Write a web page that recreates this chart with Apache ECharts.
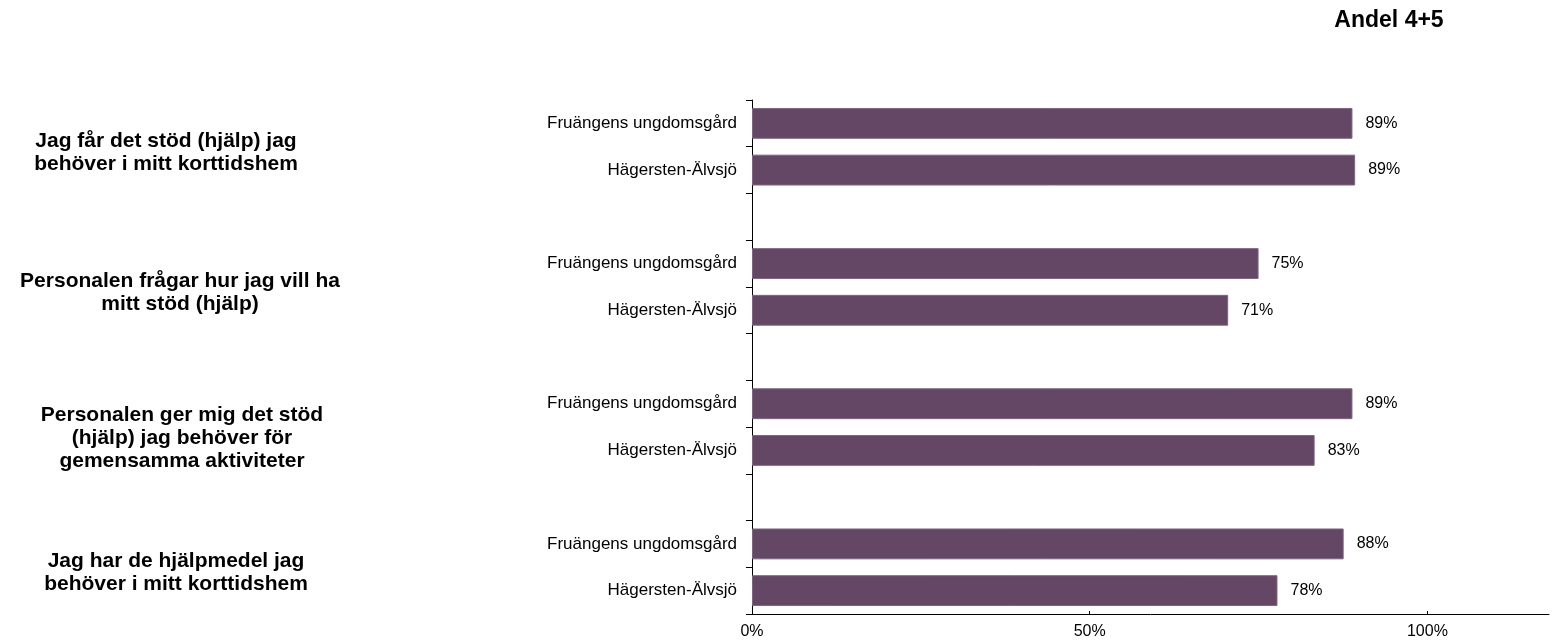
<!DOCTYPE html>
<html><head><meta charset="utf-8">
<script src="https://cdn.jsdelivr.net/npm/echarts@6/dist/echarts.min.js"></script>
<style>html,body{margin:0;padding:0;background:#fff}#chart{width:1553px;height:643px}</style>
</head><body><div id="chart"></div>
<script>
const title = 'Andel 4+5';
const categories = [
  'Fruängens ungdomsgård', 'Hägersten-Älvsjö', '',
  'Fruängens ungdomsgård', 'Hägersten-Älvsjö', '',
  'Fruängens ungdomsgård', 'Hägersten-Älvsjö', '',
  'Fruängens ungdomsgård', 'Hägersten-Älvsjö'
];
const values = [0.889, 0.893, '-', 0.75, 0.705, '-', 0.889, 0.833, '-', 0.876, 0.778];
const groupLabels = [
  'Jag får det stöd (hjälp) jag\nbehöver i mitt korttidshem',
  'Personalen frågar hur jag vill ha\nmitt stöd (hjälp)',
  'Personalen ger mig det stöd\n(hjälp) jag behöver för\ngemensamma aktiviteter',
  'Jag har de hjälpmedel jag\nbehöver i mitt korttidshem'
];
const groupRows = [[0, 1], [3, 4], [6, 7], [9, 10]];
const xTickValues = [0, 0.5, 1];

// layout (not data)
const groupLabelX = [166, 180, 182, 176];
const groupLabelDY = [6, 6, 11, 5];
const FONT = '"Liberation Sans", Arial, sans-serif';

const chart = echarts.init(document.getElementById('chart'), null, {renderer: 'canvas'});
chart.setOption({
  animation: false,
  backgroundColor: '#ffffff',
  grid: {left: 752, top: 100, width: 797, height: 514, containLabel: false},
  xAxis: {
    type: 'value', min: 0, max: 1.18,
    axisLine: {show: true, lineStyle: {color: '#000', width: 1}},
    axisTick: {show: true, inside: true, length: 3, lineStyle: {color: '#000'}, customValues: xTickValues},
    axisLabel: {color: '#000', fontSize: 16, fontFamily: FONT, margin: 10,
      customValues: xTickValues,
      formatter: v => Math.round(v * 100) + '%'},
    splitLine: {show: false}
  },
  yAxis: {
    type: 'category', inverse: true, data: categories,
    axisLine: {show: true, lineStyle: {color: '#000', width: 1}},
    axisTick: {show: true, length: 6, interval: 0, lineStyle: {color: '#000'}},
    axisLabel: {color: '#000', fontSize: 17, fontFamily: FONT, margin: 15, interval: 0}
  },
  series: [{
    type: 'bar',
    data: values,
    barCategoryGap: '34%',
    itemStyle: {color: '#634764', borderColor: '#7d6580', borderWidth: 1},
    label: {show: true, position: 'right', distance: 13, color: '#000',
      fontSize: 16, fontFamily: FONT,
      formatter: p => Math.round(p.value * 100) + '%'}
  }]
});

const graphics = [{
  type: 'text', x: 1389, y: 21,
  style: {text: title, fontSize: 23, fontWeight: 'bold', fontFamily: FONT, fill: '#000',
    align: 'center', verticalAlign: 'middle'}
}];
groupRows.forEach((rows, i) => {
  const y0 = chart.convertToPixel({yAxisIndex: 0}, rows[0]);
  const y1 = chart.convertToPixel({yAxisIndex: 0}, rows[1]);
  graphics.push({
    type: 'text', x: groupLabelX[i], y: (y0 + y1) / 2 + groupLabelDY[i],
    style: {text: groupLabels[i], fontSize: 21, fontWeight: 'bold', fontFamily: FONT, fill: '#000',
      align: 'center', verticalAlign: 'middle', lineHeight: 23}
  });
});
chart.setOption({graphic: graphics});
</script>
</body></html>
